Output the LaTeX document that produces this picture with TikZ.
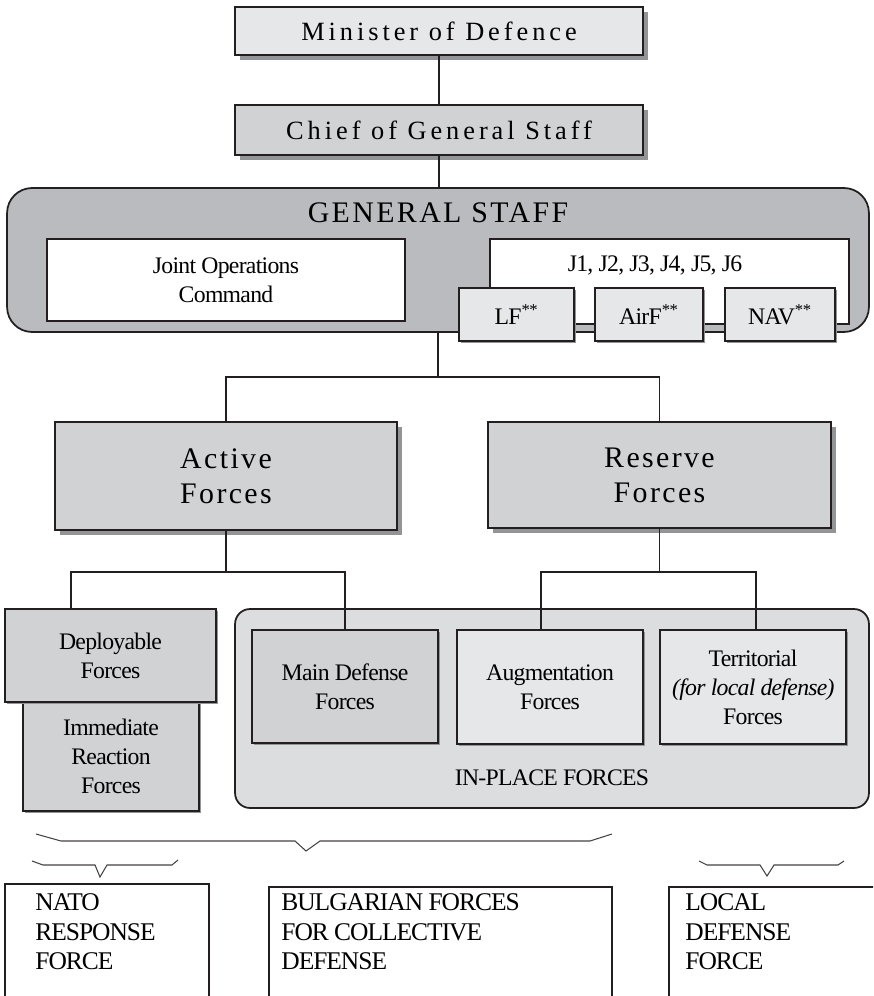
\documentclass[tikz,border=0pt]{standalone}
\usepackage{fontspec}
\setmainfont{Liberation Serif}
\usepackage{tikz}
\usetikzlibrary{positioning,calc,shadows}

\definecolor{boxlight}{HTML}{E6E7E9}
\definecolor{boxmid}{HTML}{D1D2D4}
\definecolor{boxdark}{HTML}{BABBBE}
\definecolor{boxplace}{HTML}{DCDDDF}
\definecolor{shadowgray}{HTML}{939496}
\definecolor{inkline}{HTML}{231F20}

\begin{document}
\begin{tikzpicture}[
    x=0.02cm, y=-0.02cm,
    orgbox/.style={draw=inkline, line width=1pt, inner sep=0pt, outer sep=0pt, align=center},
    shadowbox/.style={orgbox, drop shadow={shadow xshift=2.8pt, shadow yshift=-2.8pt, fill=shadowgray, opacity=1}},
    thinshadow/.style={orgbox, drop shadow={shadow xshift=1.2pt, shadow yshift=-1.2pt, fill=shadowgray, opacity=1}},
    headfont/.style={font=\fontsize{15}{18}\selectfont\addfontfeature{LetterSpace=15}},
    bigfont/.style={font=\fontsize{17}{20}\selectfont\addfontfeature{LetterSpace=8}},
    bodyfont/.style={font=\fontsize{13.5}{16.5}\selectfont\addfontfeature{LetterSpace=-3}},
    forcetext/.style={font=\fontsize{14.5}{17}\selectfont\addfontfeature{LetterSpace=-4}, align=left, anchor=north west, inner sep=0pt},
    link/.style={draw=inkline, line width=1.1pt},
    brace/.style={draw=inkline!85, line width=0.6pt}
]
\path[use as bounding box, clip] (0,0) rectangle (873,996);

% top of the chain
\node[shadowbox, headfont, fill=boxlight, minimum width=8.16cm, minimum height=0.96cm] (mod) at (439,31) {Minister of Defence};
\node[shadowbox, headfont, fill=boxmid, minimum width=8.16cm, minimum height=1cm] (cgs) at (439,130) {Chief of General Staff};

\node[orgbox, fill=boxdark, rounded corners=0.5cm, minimum width=17.24cm, minimum height=2.88cm] (gs) at (438,260) {};
\node[font=\fontsize{17}{19}\selectfont\addfontfeature{LetterSpace=8}, inner sep=0pt] (gstitle) at (438,213) {GENERAL STAFF};
\node[orgbox, bodyfont, fill=white, minimum width=7.16cm, minimum height=1.64cm] (joc) at (226,280) {Joint Operations\\Command};
\node[orgbox, fill=white, minimum width=7.18cm, minimum height=1.7cm] (jbox) at (669.5,281.5) {};
\node[bodyfont, inner sep=0pt] (jlist) at (655,265) {J1, J2, J3, J4, J5, J6};
\node[thinshadow, bodyfont, fill=boxlight, minimum width=2.3cm, minimum height=1.06cm] (lf) at (516.5,314.5) {LF\textsuperscript{**}};
\node[thinshadow, bodyfont, fill=boxlight, minimum width=2.16cm, minimum height=1.06cm] (airf) at (649,314.5) {AirF\textsuperscript{**}};
\node[thinshadow, bodyfont, fill=boxlight, minimum width=2.2cm, minimum height=1.06cm] (nav) at (780,314.5) {NAV\textsuperscript{**}};

\node[shadowbox, bigfont, fill=boxmid, minimum width=6.84cm, minimum height=2.16cm] (act) at (226,476) {Active\\Forces};
\node[shadowbox, bigfont, fill=boxmid, minimum width=6.86cm, minimum height=2.12cm] (res) at (659.5,475) {Reserve\\Forces};

% force groups
\node[orgbox, fill=boxplace, rounded corners=0.3cm, minimum width=12.68cm, minimum height=3.98cm] (inplace) at (552,708.5) {};
\node[bodyfont, inner sep=0pt] (inplacetxt) at (552,778) {IN-PLACE FORCES};
\node[thinshadow, bodyfont, fill=boxmid, minimum width=3.52cm, minimum height=2.18cm] (irf) at (111,756.5) {Immediate\\Reaction\\Forces};
\node[thinshadow, bodyfont, fill=boxmid, minimum width=4.22cm, minimum height=1.86cm] (dep) at (110.5,655.5) {Deployable\\Forces};
\node[thinshadow, bodyfont, fill=boxmid, minimum width=3.72cm, minimum height=2.26cm] (main) at (345,686.5) {Main Defense\\Forces};
\node[thinshadow, bodyfont, fill=boxlight, minimum width=3.72cm, minimum height=2.28cm] (aug) at (550,687) {Augmentation\\Forces};
\node[thinshadow, bodyfont, fill=boxlight, minimum width=3.72cm, minimum height=2.28cm] (ter) at (753,687) {Territorial\\\textit{(for local defense)}\\Forces};

% connectors
\coordinate (jgs) at (438,377);
\coordinate (jact) at (226,572);
\coordinate (jres) at (661,572);
\draw[link] (mod) -- (cgs);
\draw[link] (cgs) -- (cgs |- gs.north);
\draw[link] (gs.south) -- (jgs);
\draw[link] (act.north) |- (jgs) -| (res.north);
\draw[link] (act.south) -- (jact);
\draw[link] (jact) -| ([xshift=-0.79cm]dep.north);
\draw[link] (jact) -| (main.north);
\draw[link] (res.south) -- (res.south |- jres);
\draw[link] (jres) -| ([xshift=-0.18cm]aug.north);
\draw[link] (jres) -| ([xshift=0.06cm]ter.north);

% braces
\draw[brace] (36,834) -- (61,841) -- (295,841) -- (306,851) -- (320,841) -- (590,841) -- (612,834);
\draw[brace] (32,861) -- (43,865) -- (95,865) -- (100,877) -- (107,865) -- (172,865) -- (178,860);
\draw[brace] (699,861) -- (707,865) -- (760,865) -- (767,876) -- (774,865) -- (838,865) -- (844,861);

% bottom boxes
\node[orgbox, fill=white, minimum width=4.08cm, minimum height=2.6cm] (nrf) at (107,949) {};
\node[orgbox, fill=white, minimum width=6.86cm, minimum height=2.6cm] (bfc) at (440.5,952) {};
\node[orgbox, fill=white, minimum width=4.4cm, minimum height=2.6cm] (ldf) at (779,952) {};
\node[forcetext] (nrftxt) at (35,893) {NATO\\RESPONSE\\FORCE};
\node[forcetext] (bfctxt) at (281,893) {BULGARIAN FORCES\\FOR COLLECTIVE\\DEFENSE};
\node[forcetext] (ldftxt) at (685,893) {LOCAL\\DEFENSE\\FORCE};
\end{tikzpicture}
\end{document}
